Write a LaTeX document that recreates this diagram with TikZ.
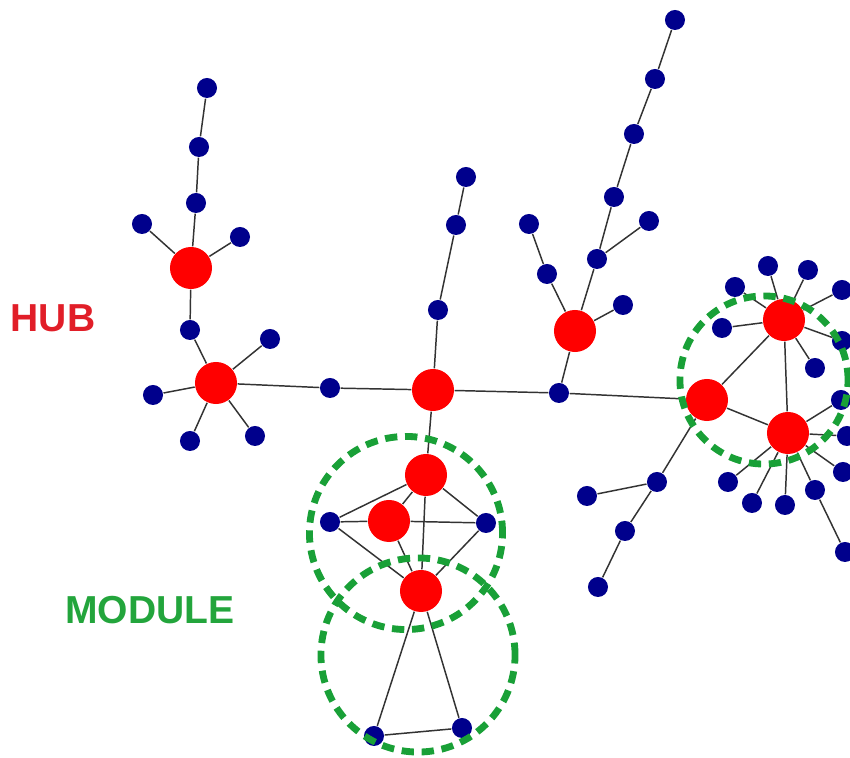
\documentclass[tikz,border=0pt]{standalone}
\usepackage{fontspec}
\setmainfont{Liberation Sans}
\usepackage{tikz}
\definecolor{hubred}{RGB}{255,0,0}
\definecolor{leafblue}{RGB}{0,0,140}
\definecolor{modgreen}{RGB}{25,160,55}
\definecolor{hubtext}{RGB}{225,30,40}
\definecolor{modtext}{RGB}{35,165,60}
\tikzset{
	hub/.style={circle, fill=hubred, inner sep=0pt, minimum size=0.42cm},
	leaf/.style={circle, fill=leafblue, inner sep=0pt, minimum size=0.2cm},
	link/.style={line width=0.42pt, color=black!80},
	module/.style={line width=1.95pt, color=modgreen, dash pattern=on 3.5pt off 2.2pt},
	label/.style={font=\fontsize{11.1}{13}\selectfont\bfseries}
}

\begin{document}
\begin{tikzpicture}[x=0.01cm, y=-0.01cm]
		%%%%% START %%%%%
		\clip (0, 0) rectangle (850, 758);
		
		% hubs
		\node[hub] (h1) at (191, 268) {};
		\node[hub] (h2) at (216, 383) {};
		\node[hub] (h3) at (433, 390) {};
		\node[hub] (h4) at (575, 331) {};
		\node[hub] (h5) at (707, 400) {};
		\node[hub] (h6) at (784, 320) {};
		\node[hub] (h7) at (788, 433) {};
		\node[hub] (h8) at (426, 475) {};
		\node[hub] (h9) at (389, 521) {};
		\node[hub] (h10) at (421, 591) {};
		
		% left tree
		\node[leaf] (n1) at (207, 88) {};
		\node[leaf] (n2) at (199, 147) {};
		\node[leaf] (n3) at (196, 203) {};
		\node[leaf] (n4) at (142, 224) {};
		\node[leaf] (n5) at (240, 237) {};
		\node[leaf] (n6) at (190, 330) {};
		\node[leaf] (n7) at (270, 339) {};
		\node[leaf] (n8) at (153, 395) {};
		\node[leaf] (n9) at (190, 441) {};
		\node[leaf] (n10) at (255, 436) {};
		\node[leaf] (n11) at (330, 388) {};
		
		% middle
		\node[leaf] (n12) at (466, 177) {};
		\node[leaf] (n13) at (456, 225) {};
		\node[leaf] (n14) at (438, 310) {};
		\node[leaf] (n15) at (559, 393) {};
		\node[leaf] (n16) at (547, 274) {};
		\node[leaf] (n17) at (529, 224) {};
		\node[leaf] (n18) at (623, 305) {};
		\node[leaf] (n19) at (597, 259) {};
		\node[leaf] (n20) at (649, 221) {};
		\node[leaf] (n21) at (614, 197) {};
		\node[leaf] (n22) at (634, 134) {};
		\node[leaf] (n23) at (655, 79) {};
		\node[leaf] (n24) at (675, 20) {};
		
		% lower module
		\node[leaf] (n25) at (330, 522) {};
		\node[leaf] (n26) at (486, 523) {};
		\node[leaf] (n27) at (374, 736) {};
		\node[leaf] (n28) at (462, 728) {};
		
		% branch below h5
		\node[leaf] (n29) at (657, 482) {};
		\node[leaf] (n30) at (587, 496) {};
		\node[leaf] (n31) at (625, 531) {};
		\node[leaf] (n32) at (598, 587) {};
		
		% right module
		\node[leaf] (r1) at (768, 266) {};
		\node[leaf] (r2) at (808, 270) {};
		\node[leaf] (r3) at (842, 290) {};
		\node[leaf] (r4) at (735, 287) {};
		\node[leaf] (r5) at (722, 328) {};
		\node[leaf] (r6) at (842, 341) {};
		\node[leaf] (r7) at (815, 368) {};
		\node[leaf] (r8) at (841, 400) {};
		\node[leaf] (r9) at (847, 436) {};
		\node[leaf] (r10) at (843, 472) {};
		\node[leaf] (r11) at (815, 490) {};
		\node[leaf] (r12) at (785, 505) {};
		\node[leaf] (r13) at (752, 503) {};
		\node[leaf] (r14) at (728, 482) {};
		\node[leaf] (r15) at (845, 552) {};
		
		% links
		\draw[link] (n1) -- (n2) -- (n3) -- (h1);
		\draw[link] (n4) -- (h1);
		\draw[link] (n5) -- (h1);
		\draw[link] (h1) -- (n6) -- (h2);
		\draw[link] (n7) -- (h2);
		\draw[link] (n8) -- (h2);
		\draw[link] (n9) -- (h2);
		\draw[link] (n10) -- (h2);
		\draw[link] (h2) -- (n11) -- (h3);
		\draw[link] (h3) -- (n14) -- (n13) -- (n12);
		\draw[link] (h3) -- (n15) -- (h5);
		\draw[link] (n15) -- (h4);
		\draw[link] (n17) -- (n16) -- (h4);
		\draw[link] (n18) -- (h4);
		\draw[link] (h4) -- (n19) -- (n21) -- (n22) -- (n23) -- (n24);
		\draw[link] (n19) -- (n20);
		
		\draw[link] (h3) -- (h8);
		\draw[link] (h8) -- (n25);
		\draw[link] (h8) -- (h9);
		\draw[link] (h8) -- (h10);
		\draw[link] (h8) -- (n26);
		\draw[link] (n25) -- (h9) -- (n26);
		\draw[link] (n25) -- (h10);
		\draw[link] (h9) -- (h10);
		\draw[link] (n26) -- (h10);
		\draw[link] (h10) -- (n27) -- (n28) -- (h10);
		
		\draw[link] (h5) -- (n29) -- (n30);
		\draw[link] (n29) -- (n31) -- (n32);
		
		\draw[link] (h5) -- (h6) -- (h7) -- (h5);
		\draw[link] (h6) -- (r1);
		\draw[link] (h6) -- (r2);
		\draw[link] (h6) -- (r3);
		\draw[link] (h6) -- (r4);
		\draw[link] (h6) -- (r5);
		\draw[link] (h6) -- (r6);
		\draw[link] (h6) -- (r7);
		\draw[link] (h7) -- (r8);
		\draw[link] (h7) -- (r9);
		\draw[link] (h7) -- (r10);
		\draw[link] (h7) -- (r11) -- (r15);
		\draw[link] (h7) -- (r12);
		\draw[link] (h7) -- (r13);
		\draw[link] (h7) -- (r14);
		
		% modules
		\draw[module] (764, 380) circle (0.84cm);
		\draw[module] (406, 533) circle (0.965cm);
		\draw[module] (418, 655) circle (0.97cm);
		
		% labels
		\node[label, text=hubtext] (hubl) at (53, 318) {HUB};
		\node[label, text=modtext] (modl) at (150, 610) {MODULE};
		
		%%%%% END %%%%%
	\end{tikzpicture}
\end{document}
